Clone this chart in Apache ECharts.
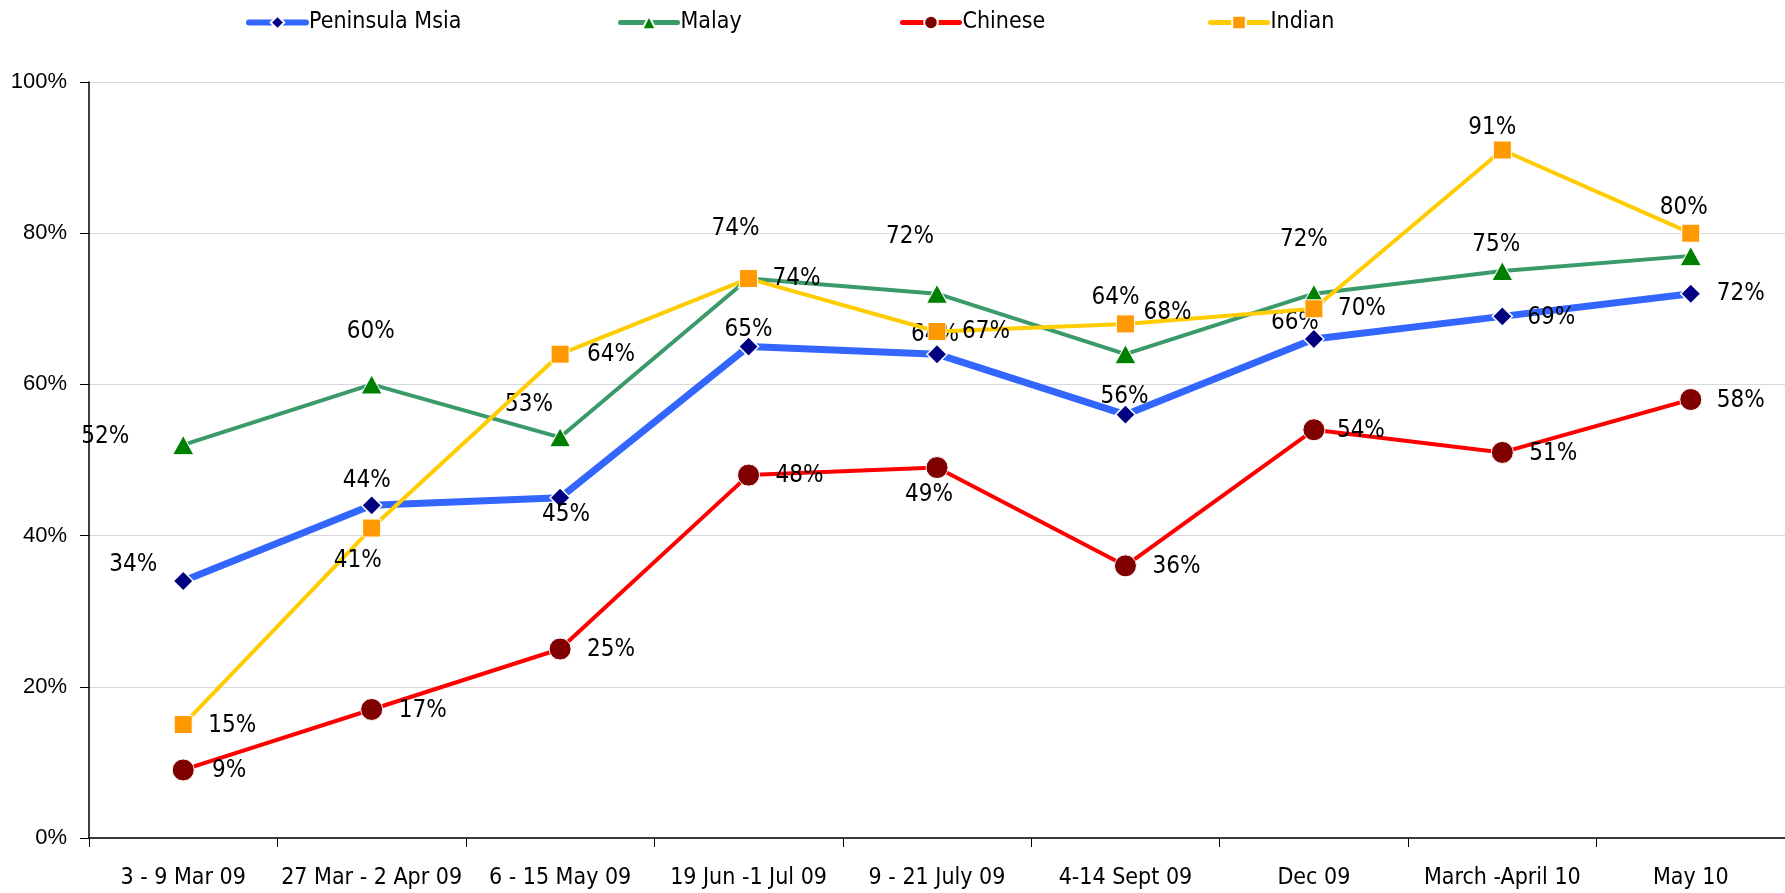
<!DOCTYPE html>
<html>
<head>
<meta charset="utf-8">
<title>Survey trend by ethnic group</title>
<script src="https://cdn.jsdelivr.net/npm/echarts@6/dist/echarts.min.js"></script>
<style>
  html, body { margin: 0; padding: 0; background: #ffffff; }
  #chart { width: 1785px; height: 893px; }
</style>
</head>
<body>
<div id="chart"></div>
<script>
// Survey periods
const categories = ['3 - 9 Mar 09', '27 Mar - 2 Apr 09', '6 - 15 May 09', '19 Jun -1 Jul 09',
  '9 - 21 July 09', '4-14 Sept 09', 'Dec 09', 'March -April 10', 'May 10'];

// Percentages per group
const peninsula = [34, 44, 45, 65, 64, 56, 66, 69, 72];
const malay     = [52, 60, 53, 74, 72, 64, 72, 75, 77];
const chinese   = [9, 17, 25, 48, 49, 36, 54, 51, 58];
const indian    = [15, 41, 64, 74, 67, 68, 70, 91, 80];

// Y-axis tick values
const yTicks = [0, 20, 40, 60, 80, 100];

// Where each value label's centre sits relative to its marker (px); null = no label
const peninsulaLabelPos = [[-50, -16], [-5, -25], [6, 17], [0, -17], [-2, -19], [-1, -18], [-19, -16], [49, 1], [50, 0]];
const malayLabelPos     = [[-78, -8], [-1, -53], [-31, -33], [-13, -50], [-27, -57], [-10, -56], [-10, -54], [-6, -26], null];
const chineseLabelPos   = [[46, 1], [51, 1], [51, 1], [51, 1], [-8, 27], [51, 1], [47, 1], [51, 1], [50, 1]];
const indianLabelPos    = [[49, 1], [-14, 33], [51, 1], [48, 0], [49, 0], [42, -11], [48, 0], [-10, -22], [-7, -25]];

const NARROW = '"DejaVu Sans Condensed", "Liberation Sans Narrow", "Arial Narrow", sans-serif';
const REGULAR = '"Liberation Sans", Arial, sans-serif';

function withLabels(values, positions) {
  return values.map((v, i) => {
    const p = positions[i];
    if (!p) return { value: v, label: { show: false } };
    return { value: v, label: { offset: p } };
  });
}

const baseLabel = {
  show: true,
  position: 'inside',
  align: 'center',
  verticalAlign: 'middle',
  formatter: '{c}%',
  color: '#000000',
  fontFamily: NARROW,
  fontSize: 24
};

const chart = echarts.init(document.getElementById('chart'), null, { renderer: 'canvas' });

function legendAt(name, left, lineWidth) {
  return {
    data: [name],
    left: left,
    top: 6,
    itemWidth: 57,
    itemHeight: 17,
    itemGap: 0,
    selectedMode: false,
    lineStyle: { width: lineWidth, cap: 'round' },
    textStyle: { fontFamily: NARROW, fontSize: 23, color: '#000000', padding: [0, 0, 0, -2] }
  };
}

chart.setOption({
  animation: false,
  backgroundColor: '#ffffff',
  legend: [
    legendAt('Peninsula Msia', 241, 6),
    legendAt('Malay', 613, 5),
    legendAt('Chinese', 895, 5),
    legendAt('Indian', 1203, 5)
  ],
  grid: { left: 89, right: 0, top: 82, bottom: 55, containLabel: false },
  xAxis: {
    type: 'category',
    data: categories,
    boundaryGap: true,
    axisLine: { lineStyle: { color: '#000000', width: 1.5 } },
    axisTick: { show: true, length: 9, lineStyle: { color: '#000000', width: 1 } },
    axisLabel: { color: '#000000', fontFamily: NARROW, fontSize: 23, margin: 29, interval: 0 },
    splitLine: { show: false }
  },
  yAxis: {
    type: 'value',
    min: yTicks[0],
    max: yTicks[yTicks.length - 1],
    interval: yTicks[1] - yTicks[0],
    axisLine: { show: true, lineStyle: { color: '#000000', width: 1.5 } },
    axisTick: { show: true, length: 9, lineStyle: { color: '#000000', width: 1 } },
    axisLabel: { color: '#000000', fontFamily: REGULAR, fontSize: 22, margin: 22, formatter: '{value}%' },
    splitLine: { show: true, lineStyle: { color: '#d9d9d9', width: 1 } }
  },
  series: [
    {
      name: 'Peninsula Msia',
      type: 'line',
      data: withLabels(peninsula, peninsulaLabelPos),
      symbol: 'diamond',
      symbolSize: 20,
      lineStyle: { color: '#3366ff', width: 7 },
      itemStyle: { color: '#000080', borderColor: '#ffffff', borderWidth: 1.5 },
      label: baseLabel,
      emphasis: { disabled: true },
      z: 2
    },
    {
      name: 'Malay',
      type: 'line',
      data: withLabels(malay, malayLabelPos),
      symbol: 'triangle',
      symbolSize: [21, 19],
      lineStyle: { color: '#3a9a6a', width: 4 },
      itemStyle: { color: '#008000', borderColor: '#ffffff', borderWidth: 1 },
      label: baseLabel,
      emphasis: { disabled: true },
      z: 3
    },
    {
      name: 'Chinese',
      type: 'line',
      data: withLabels(chinese, chineseLabelPos),
      symbol: 'circle',
      symbolSize: 22,
      lineStyle: { color: '#ff0000', width: 4 },
      itemStyle: { color: '#800000', borderColor: '#ffffff', borderWidth: 1 },
      label: baseLabel,
      emphasis: { disabled: true },
      z: 4
    },
    {
      name: 'Indian',
      type: 'line',
      data: withLabels(indian, indianLabelPos),
      symbol: 'rect',
      symbolSize: 18,
      lineStyle: { color: '#ffcc00', width: 4 },
      itemStyle: { color: '#ff9900', borderColor: '#ffffff', borderWidth: 1 },
      label: baseLabel,
      emphasis: { disabled: true },
      z: 5
    }
  ]
});
</script>
</body>
</html>
